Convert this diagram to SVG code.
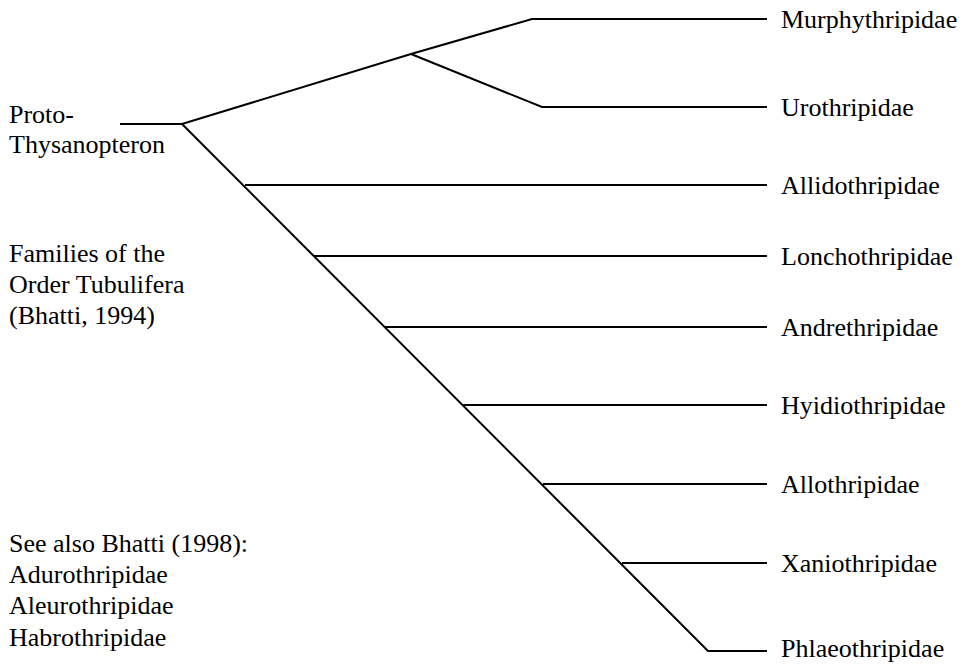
<svg xmlns="http://www.w3.org/2000/svg" width="967" height="664" viewBox="0 0 967 664">
<style>
text{font-family:'Liberation Serif',Tinos,'Times New Roman','DejaVu Serif',serif;font-size:26px;fill:#000}
.e{stroke:#000;stroke-width:2;fill:none;stroke-linejoin:miter}
</style>
<rect width="967" height="664" fill="#fff"/>
<g id="connectors">
<polyline class="e" points="120,124 182,124 411,54 532,19 767,19"/>
<polyline class="e" points="411,54 542,107 767,107"/>
<polyline class="e" points="182,124 708,651 767,651"/>
<line class="e" x1="245" y1="185" x2="767" y2="185"/>
<line class="e" x1="314" y1="256" x2="767" y2="256"/>
<line class="e" x1="384" y1="327" x2="767" y2="327"/>
<line class="e" x1="463" y1="405" x2="767" y2="405"/>
<line class="e" x1="543" y1="484" x2="767" y2="484"/>
<line class="e" x1="622" y1="563" x2="767" y2="563"/>
</g>
<g id="root"><text x="9" y="123">Proto-</text><text x="9" y="153">Thysanopteron</text></g>
<g id="title"><text x="9" y="262">Families of the</text><text x="9" y="293">Order Tubulifera</text><text x="9" y="324">(Bhatti, 1994)</text></g>
<g id="note"><text x="9" y="552">See also Bhatti (1998):</text><text x="9" y="583">Adurothripidae</text><text x="9" y="614">Aleurothripidae</text><text x="9" y="646">Habrothripidae</text></g>
<g id="murphythripidae"><text x="781" y="28">Murphythripidae</text></g>
<g id="urothripidae"><text x="781" y="116">Urothripidae</text></g>
<g id="allidothripidae"><text x="781" y="194">Allidothripidae</text></g>
<g id="lonchothripidae"><text x="781" y="265">Lonchothripidae</text></g>
<g id="andrethripidae"><text x="781" y="336">Andrethripidae</text></g>
<g id="hyidiothripidae"><text x="781" y="414">Hyidiothripidae</text></g>
<g id="allothripidae"><text x="781" y="493">Allothripidae</text></g>
<g id="xaniothripidae"><text x="781" y="572">Xaniothripidae</text></g>
<g id="phlaeothripidae"><text x="781" y="657">Phlaeothripidae</text></g>
</svg>
